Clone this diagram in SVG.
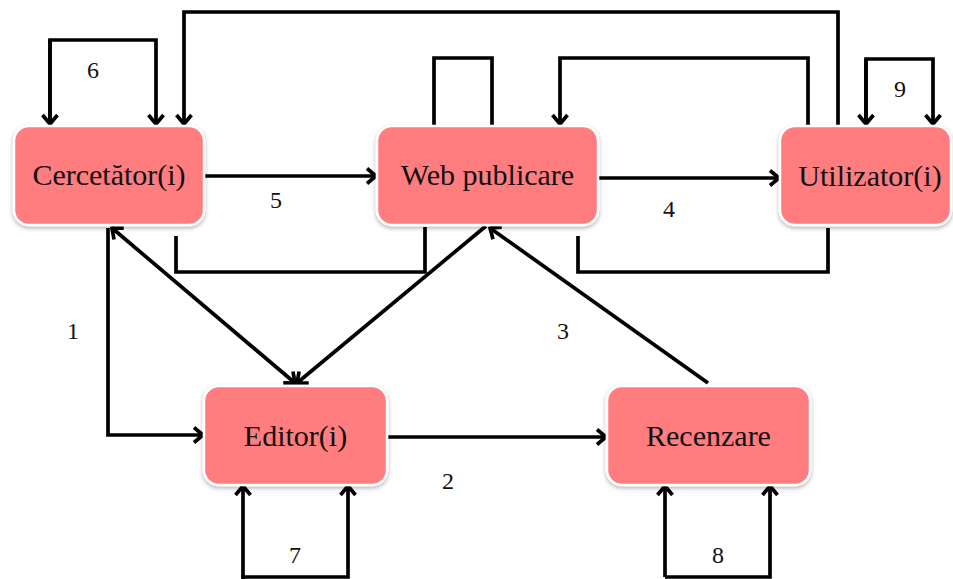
<svg xmlns="http://www.w3.org/2000/svg" width="953" height="579" viewBox="0 0 953 579">
<style>
.node rect{fill:#FF7B7F;stroke:#fff;stroke-width:2.5;filter:url(#sh)}
.node text{font-family:"Liberation Serif",serif;font-size:30px;fill:#111;text-anchor:middle}
.lbl{font-family:"Liberation Serif",serif;font-size:24px;fill:#111;text-anchor:middle}
.c{fill:none;stroke:#000;stroke-width:3.7;stroke-linejoin:miter}
.a{marker-end:url(#ah)}
.d{marker-start:url(#ah);marker-end:url(#ah)}
</style>
<defs>
<filter id="sh" x="-10%" y="-10%" width="120%" height="130%">
<feDropShadow dx="0" dy="2" stdDeviation="2" flood-color="#000" flood-opacity="0.3"/>
</filter>
<marker id="ah" viewBox="-14 -10 16 20" refX="0" refY="0" markerWidth="16" markerHeight="20" orient="auto-start-reverse" markerUnits="userSpaceOnUse">
<path d="M-9,-7.5 L0,0 L-9,7.5" fill="none" stroke="#000" stroke-width="3.7"/>
</marker>
</defs>
<rect width="953" height="579" fill="#fff"/>
<g id="connectors">
<path class="c a" d="M50,125 V40 H156 V124"/>
<path class="c a" d="M50,40 V124"/>
<path class="c a" d="M838,125 V12 H184 V124"/>
<path class="c a" d="M205,176 H376"/>
<path class="c" d="M434,125 V58 H492 V125"/>
<path class="c a" d="M808,125 V58 H560 V124"/>
<path class="c a" d="M599,178 H779"/>
<path class="c a" d="M866,125 V59 H933 V124"/>
<path class="c a" d="M866,59 V124"/>
<path class="c" d="M176,236 V272 H425 V227"/>
<path class="c" d="M578,236 V272 H828 V228"/>
<path class="c a" d="M108,228 V435 H203"/>
<path class="c d" d="M112,228 L295,383"/>
<path class="c a" d="M486,226 L297,383"/>
<path class="c a" d="M708,383 L490,228"/>
<path class="c a" d="M388,437 H606"/>
<path class="c a" d="M243,579 V577 H348 V486"/>
<path class="c a" d="M243,577 V486"/>
<path class="c a" d="M665,577 H770 V486"/>
<path class="c a" d="M665,577 V486"/>
</g>
<g id="labels">
<text class="lbl" x="93" y="78">6</text>
<text class="lbl" x="276" y="208">5</text>
<text class="lbl" x="669" y="217">4</text>
<text class="lbl" x="900" y="97">9</text>
<text class="lbl" x="73" y="339">1</text>
<text class="lbl" x="563" y="339">3</text>
<text class="lbl" x="448" y="489">2</text>
<text class="lbl" x="295" y="563">7</text>
<text class="lbl" x="718" y="563">8</text>
</g>
<g id="node-cercetator" class="node"><rect x="14" y="126" width="190" height="99" rx="15"/><text x="109" y="185">Cercetător(i)</text></g>
<g id="node-web" class="node"><rect x="377" y="126" width="221" height="99" rx="15"/><text x="487.5" y="185">Web publicare</text></g>
<g id="node-utilizator" class="node"><rect x="780" y="126" width="171" height="99" rx="15"/><text x="870" y="186">Utilizator(i)</text></g>
<g id="node-editor" class="node"><rect x="204" y="386" width="183" height="99" rx="15"/><text x="295.5" y="446">Editor(i)</text></g>
<g id="node-recenzare" class="node"><rect x="607" y="386" width="203" height="99" rx="15"/><text x="708.5" y="446">Recenzare</text></g>
</svg>
